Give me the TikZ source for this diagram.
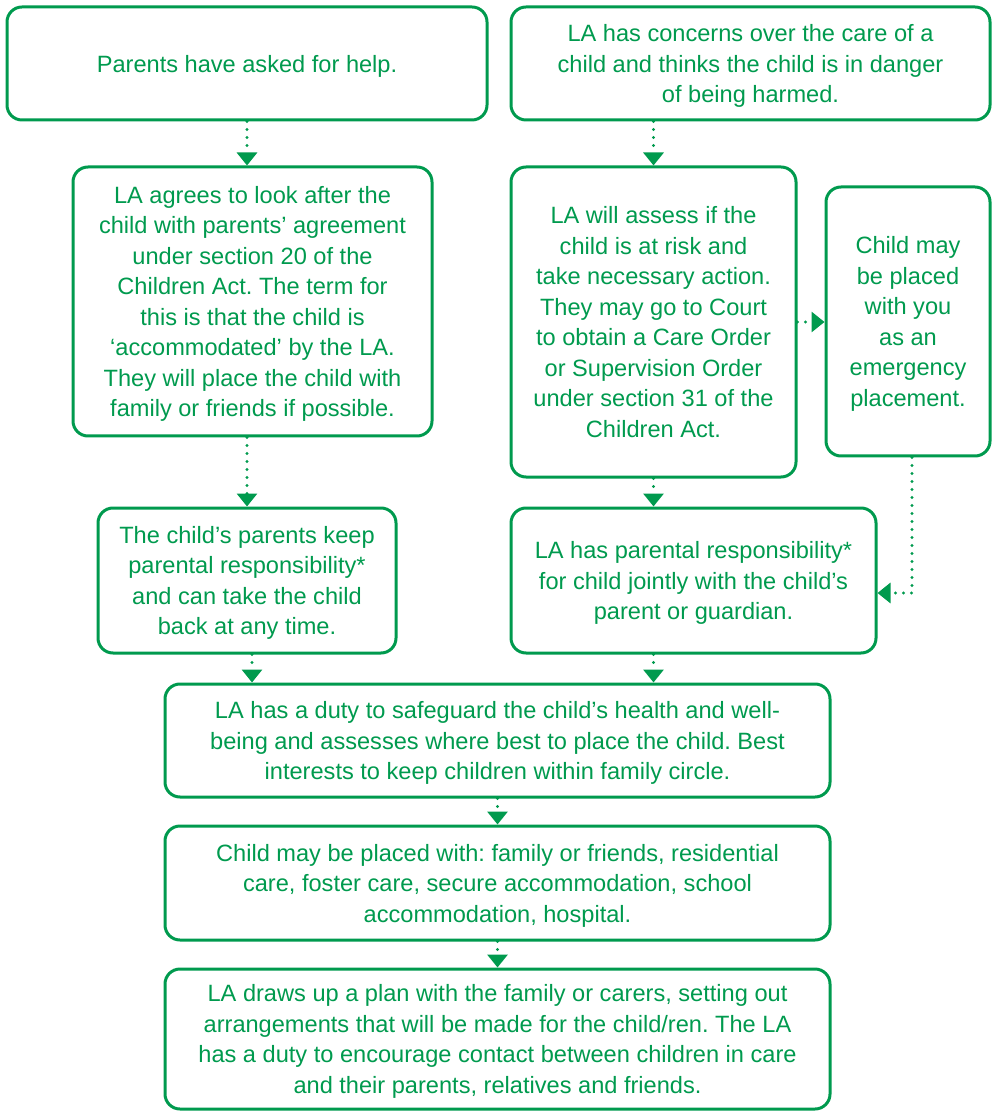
\documentclass[tikz,border=0pt]{standalone}
\usepackage{fontspec}
\setmainfont{Liberation Sans}
\frenchspacing
\usetikzlibrary{arrows.meta,positioning}
\definecolor{lagreen}{HTML}{009A4E}

\tikzset{
	box/.style={draw=lagreen, line width=1.5pt, rounded corners=7.5pt, text=lagreen,
		align=center, inner sep=0pt, text depth=0pt, font=\fontsize{11.8}{15.25}\selectfont},
	flow/.style={draw=lagreen, line width=1.6pt, dash pattern=on 0pt off 4pt, line cap=round,
		-{Triangle[width=10pt,length=6.5pt,fill=lagreen]}}
}

\begin{document}
\begin{tikzpicture}[x=0.5pt,y=-0.5pt]
		
			\useasboundingbox (0,0) rectangle (995,1111);
			
			% top row
			\node[box, minimum width=240pt, minimum height=56.5pt] (parents) at (247,63.5)
				{Parents have asked for help.};
			\node[box, minimum width=239.5pt, minimum height=56.5pt] (concern) at (750.5,63.5)
				{LA has concerns over the care of a\\child and thinks the child is in danger\\of being harmed.};
			
			% second row
			\node[box, minimum width=179.5pt, minimum height=134.5pt] (agree) at (252.5,301.5)
				{LA agrees to look after the\\child with parents' agreement\\under section 20 of the\\Children Act. The term for\\this is that the child is\\`accommodated' by the LA.\\They will place the child with\\family or friends if possible.};
			\node[box, minimum width=142.5pt, minimum height=155pt] (assess) at (653.5,322)
				{LA will assess if the\\child is at risk and\\take necessary action.\\They may go to Court\\to obtain a Care Order\\or Supervision Order\\under section 31 of the\\Children Act.};
			\node[box, minimum width=82pt, minimum height=134.5pt] (emerg) at (908,321.5)
				{Child may\\be placed\\with you\\as an\\emergency\\placement.};
			
			% third row
			\node[box, minimum width=149pt, minimum height=72.5pt] (keep) at (247,580.5)
				{The child's parents keep\\parental responsibility*\\and can take the child\\back at any time.};
			\node[box, minimum width=182.5pt, minimum height=72.5pt] (joint) at (693.5,580.5)
				{LA has parental responsibility*\\for child jointly with the child's\\parent or guardian.};
			
			% bottom column
			\node[box, minimum width=332.5pt, minimum height=56.5pt] (duty) at (497.5,740.5)
				{LA has a duty to safeguard the child's health and well-\\being and assesses where best to place the child. Best\\interests to keep children within family circle.};
			\node[box, minimum width=332.5pt, minimum height=57pt] (placed) at (497.5,883)
				{Child may be placed with: family or friends, residential\\care, foster care, secure accommodation, school\\accommodation, hospital.};
			\node[box, minimum width=332.5pt, minimum height=70pt] (plan) at (497.5,1039)
				{LA draws up a plan with the family or carers, setting out\\arrangements that will be made for the child/ren. The LA\\has a duty to encourage contact between children in care\\and their parents, relatives and friends.};
			
			% connectors
			\draw[flow] (parents.south) -- (parents.south |- agree.north);
			\draw[flow] (assess.north |- concern.south) -- (assess.north);
			\draw[flow] (agree.south -| keep.north) -- (keep.north);
			\draw[flow] (assess.south) -- (assess.south |- joint.north);
			\draw[flow] (assess.east) -- (assess.east -| emerg.west);
			\draw[flow] ([xshift=2pt]emerg.south) |- ([yshift=-6.25pt]joint.east);
			\draw[flow] ([xshift=2.5pt]keep.south) -- ([xshift=2.5pt]keep.south |- duty.north);
			\draw[flow] (joint.south -| assess.south) -- (assess.south |- duty.north);
			\draw[flow] (duty.south) -- (placed.north);
			\draw[flow] (placed.south) -- (plan.north);
			
		\end{tikzpicture}
\end{document}
